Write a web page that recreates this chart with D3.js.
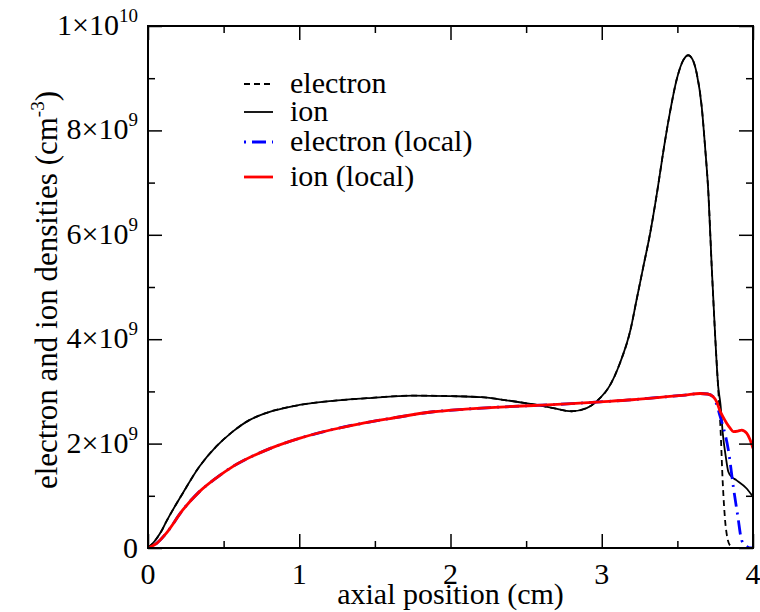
<!DOCTYPE html>
<html><head><meta charset="utf-8">
<script src="https://cdn.jsdelivr.net/npm/d3@7"></script>
<style>
body{margin:0;background:#fff}
svg{display:block}
text{font-family:"Liberation Serif","Times New Roman",serif;fill:#000}
</style>
</head><body>
<svg id="chart" width="760" height="612"></svg>
<script>
// ---- data (density values in units of 1e9 cm^-3) ----
const ionX = [0,0.046,0.09,0.12,0.23,0.34,0.45,0.56,0.67,0.785,1.0,1.22,1.45,1.75,2.0,2.2,2.37,2.55,2.68,2.8,2.9,2.97,3.055,3.12,3.19,3.23,3.275,3.32,3.365,3.41,3.45,3.495,3.54,3.572,3.60,3.628,3.661,3.683,3.705,3.727,3.749,3.77,3.785,3.80,3.82,3.837,3.86,3.89,3.958,4.0];
const ionY = [0,0.14,0.33,0.5,1.05,1.56,1.94,2.23,2.45,2.59,2.74,2.82,2.87,2.92,2.91,2.89,2.83,2.75,2.68,2.62,2.68,2.82,3.12,3.54,4.18,4.75,5.39,6.03,6.8,7.65,8.33,8.97,9.35,9.44,9.36,9.09,8.45,7.69,6.8,5.39,4.11,3.09,2.75,2.2,1.75,1.46,1.36,1.30,1.14,0.98];
const electronX = [0,0.046,0.09,0.12,0.23,0.34,0.45,0.56,0.67,0.785,1.0,1.22,1.45,1.75,2.0,2.2,2.37,2.55,2.68,2.8,2.9,2.97,3.055,3.12,3.19,3.23,3.275,3.32,3.365,3.41,3.45,3.495,3.54,3.572,3.60,3.628,3.661,3.683,3.705,3.727,3.749,3.77,3.785,3.80,3.815,3.83,3.85,3.87,3.95,4.0];
const electronY = [0,0.14,0.33,0.5,1.05,1.56,1.94,2.23,2.45,2.59,2.74,2.82,2.87,2.92,2.91,2.89,2.83,2.75,2.68,2.62,2.68,2.82,3.12,3.54,4.18,4.75,5.39,6.03,6.8,7.65,8.33,8.97,9.35,9.44,9.36,9.09,8.45,7.69,6.8,5.39,4.11,3.05,2.3,1.25,0.55,0.2,0.04,0,0,0];
const ionLocalX = [0,0.057,0.12,0.23,0.34,0.45,0.56,0.785,1.0,1.22,1.40,1.6,1.886,2.1,2.327,2.55,2.77,2.99,3.2,3.4,3.55,3.65,3.70,3.735,3.76,3.78,3.80,3.826,3.85,3.87,3.9,3.925,3.958,3.98,4.0];
const ionLocalY = [0,0.09,0.28,0.73,1.08,1.34,1.56,1.88,2.10,2.27,2.38,2.48,2.61,2.66,2.70,2.73,2.76,2.80,2.84,2.89,2.93,2.96,2.95,2.90,2.80,2.64,2.52,2.39,2.29,2.23,2.24,2.26,2.20,2.08,1.91];
const electronLocalX = [0,0.057,0.12,0.23,0.34,0.45,0.56,0.785,1.0,1.22,1.40,1.6,1.886,2.1,2.327,2.55,2.77,2.99,3.2,3.4,3.55,3.65,3.70,3.735,3.76,3.78,3.80,3.837,3.87,3.90,3.925,3.958,3.98,4.0];
const electronLocalY = [0,0.09,0.28,0.73,1.08,1.34,1.56,1.88,2.10,2.27,2.38,2.48,2.61,2.66,2.70,2.73,2.76,2.80,2.84,2.89,2.93,2.96,2.95,2.90,2.75,2.55,2.35,1.88,1.17,0.6,0.15,0.03,0,0];

const seriesNames = ["electron","ion","electron (local)","ion (local)"];
const xTickValues = [0,1,2,3,4];
const xTickLabels = ["0","1","2","3","4"];
const yTickValues = [0,2,4,6,8,10];
const yTickMantissa = ["0","2×10","4×10","6×10","8×10","1×10"];
const yTickExponent = ["","9","9","9","9","10"];
const xTitle = "axial position (cm)";
const yTitle = "electron and ion densities (cm";
const yTitleExp = "-3";

// ---- layout ----
const L = 148, R = 753, T = 26, B = 548;
const FS = 30, FT = 30, FSUP = 19;
const svg = d3.select("#chart");
const x = d3.scaleLinear().domain([0,4]).range([L,R]);
const y = d3.scaleLinear().domain([0,10]).range([B,T]);

svg.append("defs").append("clipPath").attr("id","clip")
  .append("rect").attr("x",L).attr("y",T).attr("width",R-L).attr("height",B-T);

// ---- series ----
const mk = (xs, ys) => xs.map((v,i)=>[v, ys[i]]);
const series = [
  {name: seriesNames[0], data: mk(electronX, electronY), color:"#000", width:1.8, dash:"6,4"},
  {name: seriesNames[1], data: mk(ionX, ionY), color:"#000", width:1.8, dash:null},
  {name: seriesNames[2], data: mk(electronLocalX, electronLocalY), color:"#0000ff", width:2.8, dash:"2,6,14,6"},
  {name: seriesNames[3], data: mk(ionLocalX, ionLocalY), color:"#ff0000", width:2.8, dash:null}
];
const line = d3.line().x(d=>x(d[0])).y(d=>y(d[1])).curve(d3.curveMonotoneX);
const g = svg.append("g").attr("clip-path","url(#clip)");
series.forEach(s=>{
  g.append("path").attr("d", line(s.data)).attr("fill","none")
   .attr("stroke", s.color).attr("stroke-width", s.width)
   .attr("stroke-dasharray", s.dash).attr("stroke-linejoin","round");
});

// ---- axes (ticks inward on all sides) ----
const xMinor = d3.range(0.5,4,1);
const yMinor = d3.range(1,10,2);
function ticks(axisFn, scale, vals, size, tr){
  const a = axisFn(scale).tickValues(vals).tickSize(size).tickFormat("");
  const gg = svg.append("g").attr("transform", tr).call(a);
  gg.select(".domain").remove();
  gg.selectAll("line").attr("stroke","#000").attr("stroke-width",1.5);
}
ticks(d3.axisBottom, x, xTickValues, -14, `translate(0,${B})`);
ticks(d3.axisBottom, x, xMinor, -7, `translate(0,${B})`);
ticks(d3.axisTop, x, xTickValues, -14, `translate(0,${T})`);
ticks(d3.axisTop, x, xMinor, -7, `translate(0,${T})`);
ticks(d3.axisLeft, y, yTickValues, -14, `translate(${L},0)`);
ticks(d3.axisLeft, y, yMinor, -7, `translate(${L},0)`);
ticks(d3.axisRight, y, yTickValues, -14, `translate(${R},0)`);
ticks(d3.axisRight, y, yMinor, -7, `translate(${R},0)`);

svg.append("rect").attr("x",L).attr("y",T).attr("width",R-L).attr("height",B-T)
  .attr("fill","none").attr("stroke","#000").attr("stroke-width",2);

// x tick labels
svg.selectAll(".xl").data(xTickValues).enter().append("text")
  .attr("x", d=>x(d)).attr("y", B+36).attr("text-anchor","middle")
  .attr("font-size", FS).text((d,i)=>xTickLabels[i]);

// y tick labels
yTickValues.forEach((v,i)=>{
  const t = svg.append("text").attr("x", L-10).attr("y", y(v)+ (yTickExponent[i] ? 9 : 10))
    .attr("text-anchor","end").attr("font-size", FS);
  t.append("tspan").text(yTickMantissa[i]);
  if (yTickExponent[i]) t.append("tspan").attr("dy",-13).attr("font-size",FSUP).text(yTickExponent[i]);
});

// axis titles
svg.append("text").attr("x", (L+R)/2).attr("y", 604).attr("text-anchor","middle")
  .attr("font-size", FT).text(xTitle);
const yt = svg.append("text").attr("transform", `translate(57,290) rotate(-90)`)
  .attr("text-anchor","middle").attr("font-size", 31);
yt.append("tspan").text(yTitle);
yt.append("tspan").attr("dy",-13).attr("font-size",FSUP).text(yTitleExp);
yt.append("tspan").attr("dy",13).text(")");

// legend
const legY = [84, 112, 142, 177];
series.forEach((s,i)=>{
  svg.append("line").attr("x1",244).attr("x2",273).attr("y1",legY[i]).attr("y2",legY[i])
    .attr("stroke", s.color).attr("stroke-width", s.width).attr("stroke-dasharray", s.dash);
  svg.append("text").attr("x",290).attr("y",legY[i]+9).attr("font-size",FT).text(s.name);
});
</script>
</body></html>
